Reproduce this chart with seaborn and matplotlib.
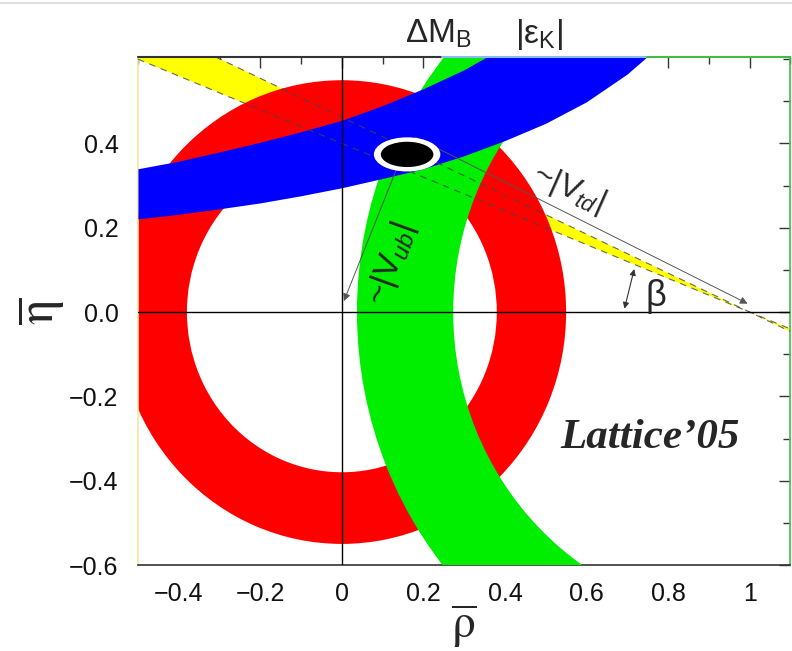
"""
Unitarity triangle fit (rho-bar, eta-bar plane), Lattice'05 style.
"""

import numpy as np
import matplotlib
matplotlib.use("Agg")
import matplotlib.pyplot as plt
import seaborn as sns
from matplotlib.patches import Wedge, Ellipse
from matplotlib.lines import Line2D
from matplotlib.ticker import MultipleLocator

# ---- data ------------------------------------------------------------------
# |V_ub| ring (centre, inner/outer radius)
vub_center = (0.0, 0.0)
vub_radii = [0.38, 0.55]
# Delta M_B ring around (1, 0)
dmb_center = (1.0, 0.0)
dmb_radii = [0.727, 0.963]
# sin 2beta wedge: apex and opening angles (deg)
beta_apex = (1.0, 0.0)
beta_angles = [21.8, 24.8]
# |eps_K| band edges
eps_rho = [-0.5, -0.4, -0.3, -0.2, -0.1, 0.0, 0.1, 0.2, 0.3, 0.4, 0.5, 0.6, 0.7, 0.8, 0.9]
eps_upper = [0.340, 0.358, 0.380, 0.403, 0.428, 0.455, 0.490, 0.530, 0.575, 0.630, 0.700, 0.790, 0.900, 1.05, 1.25]
eps_lower = [0.221, 0.232, 0.245, 0.259, 0.276, 0.295, 0.317, 0.340, 0.371, 0.407, 0.448, 0.499, 0.565, 0.649, 0.760]
# best fit point
fit_center = (0.160, 0.374)
fit_size_outer = (0.163, 0.081)
fit_size_inner = (0.129, 0.060)
# arrows
vtd_arrow = [(0.18, 0.415), (0.995, 0.02)]
vub_arrow = [(0.155, 0.39), (0.005, 0.026)]
beta_arrow = [(0.717, 0.102), (0.693, 0.008)]

x_ticks = [-0.4, -0.2, 0.0, 0.2, 0.4, 0.6, 0.8, 1.0]
x_labels = ["\u22120.4", "\u22120.2", "0", "0.2", "0.4", "0.6", "0.8", "1"]
y_ticks = [-0.6, -0.4, -0.2, 0.0, 0.2, 0.4]
y_labels = ["\u22120.6", "\u22120.4", "\u22120.2", "0.0", "0.2", "0.4"]

RED = "#ff0000"
GREEN = "#00ee00"
BLUE = "#0000ff"
YELLOW = "#ffff00"

sns.set_theme(style="white")
plt.rcParams["font.family"] = ["Liberation Sans", "DejaVu Sans"]
plt.rcParams["mathtext.fontset"] = "custom"
plt.rcParams["mathtext.rm"] = "Liberation Sans"
plt.rcParams["mathtext.it"] = "Liberation Sans:italic"
plt.rcParams["mathtext.bf"] = "Liberation Sans:bold"

fig = plt.figure(figsize=(7.92, 6.51), dpi=100)
ax = fig.add_axes([0.1742, 0.1321, 0.8238, 0.7803])

# yellow wedge (both sides of the apex)
for t0 in (180 - beta_angles[1], -beta_angles[1]):
    ax.add_patch(Wedge(beta_apex, 3.0, t0, t0 + beta_angles[1] - beta_angles[0],
                       color=YELLOW, lw=0, zorder=1))

# rings
ax.add_patch(Wedge(vub_center, vub_radii[1], 0, 360, width=vub_radii[1] - vub_radii[0],
                   color=RED, lw=0, zorder=2))
ax.add_patch(Wedge(dmb_center, dmb_radii[1], 0, 360, width=dmb_radii[1] - dmb_radii[0],
                   color=GREEN, lw=0, zorder=3))

# eps_K band
ax.fill_between(eps_rho, eps_lower, eps_upper, color=BLUE, lw=0, zorder=4)

# dashed wedge edges
for ang in beta_angles:
    ax.axline(beta_apex, slope=-np.tan(np.radians(ang)), color="#444444",
              lw=0.8, ls=(0, (6, 5)), alpha=0.8, zorder=5)

# zero lines
ax.axhline(0, color="black", lw=1.0, zorder=5)
ax.axvline(0, color="black", lw=1.0, zorder=5)

# arrows
arrow_kw = dict(arrowstyle="-|>", color="#555555", lw=0.7, mutation_scale=11,
                shrinkA=0, shrinkB=0)
for a in (vtd_arrow, vub_arrow):
    ax.annotate("", xy=a[1], xytext=a[0], arrowprops=arrow_kw, zorder=6)
ax.annotate("", xy=beta_arrow[1], xytext=beta_arrow[0],
            arrowprops=dict(arrowstyle="<|-|>", color="#333333", lw=0.8,
                            mutation_scale=9, shrinkA=0, shrinkB=0), zorder=6)

# best fit ellipse
ax.add_patch(Ellipse(fit_center, *fit_size_outer, color="white", lw=0, zorder=7))
ax.add_patch(Ellipse(fit_center, *fit_size_inner, color="black", lw=0, zorder=8))

# annotations
ax.text(0.556, 0.293, r"~|V$_{td}$|", rotation=-24, fontsize=23,
        ha="center", va="center", zorder=9)
ax.text(0.12, 0.114, r"~|V$_{ub}$|", rotation=70, fontsize=24,
        ha="center", va="center", zorder=9)
ax.text(0.77, 0.036, "\u03b2", fontsize=26, ha="center", va="center", zorder=9)
ax.text(0.756, -0.298, "Lattice\u201905", fontsize=31, fontfamily="Liberation Serif",
        fontweight="bold", fontstyle="italic", ha="center", va="center", zorder=9)

fig.text(0.554, 0.934, r"$\Delta$M$_\mathregular{B}$", fontsize=24, ha="center", va="baseline")
fig.text(0.681, 0.934, "|\u03b5$_\\mathregular{K}$|", fontsize=24, ha="center", va="baseline")

# axes
ax.set_xlim(-0.5, 1.1)
ax.set_ylim(-0.6, 0.605)
ax.set_xticks(x_ticks, x_labels)
ax.set_yticks(y_ticks, y_labels)
ax.xaxis.set_minor_locator(MultipleLocator(0.1))
ax.yaxis.set_minor_locator(MultipleLocator(0.1))
ax.tick_params(which="both", direction="in", top=True, right=True, color="#333333",
               width=1.0, labelsize=18, labelcolor="#111111")
ax.tick_params(which="major", length=8)
ax.tick_params(which="minor", length=5)
ax.tick_params(axis="x", pad=12)
ax.tick_params(axis="y", pad=14)

ax.set_xlabel(r"$\overline{\mathrm{\rho}}$", fontsize=34, math_fontfamily="stix", labelpad=-2)
ax.set_ylabel(r"$\overline{\mathrm{\eta}}$", fontsize=36, math_fontfamily="stix", labelpad=2)

ax.spines["left"].set_color("#f2e8a0")
ax.spines["bottom"].set_color("#333333")
ax.spines["right"].set_color("#44bb44")
ax.spines["top"].set_visible(False)
for x0, x1, c in [(0.0, 0.466, "#333333"), (0.466, 0.78, "#88bbee"), (0.78, 1.0, "#44bb44")]:
    ax.add_line(Line2D([x0, x1], [1, 1], transform=ax.transAxes, color=c, lw=1.5,
                       clip_on=False, zorder=10))
for sp in ax.spines.values():
    sp.set_linewidth(1.2)

fig.add_artist(Line2D([0, 1], [0.996, 0.996], color="#e0e0e0", lw=1.5))

fig.savefig("out.png", dpi=100)
